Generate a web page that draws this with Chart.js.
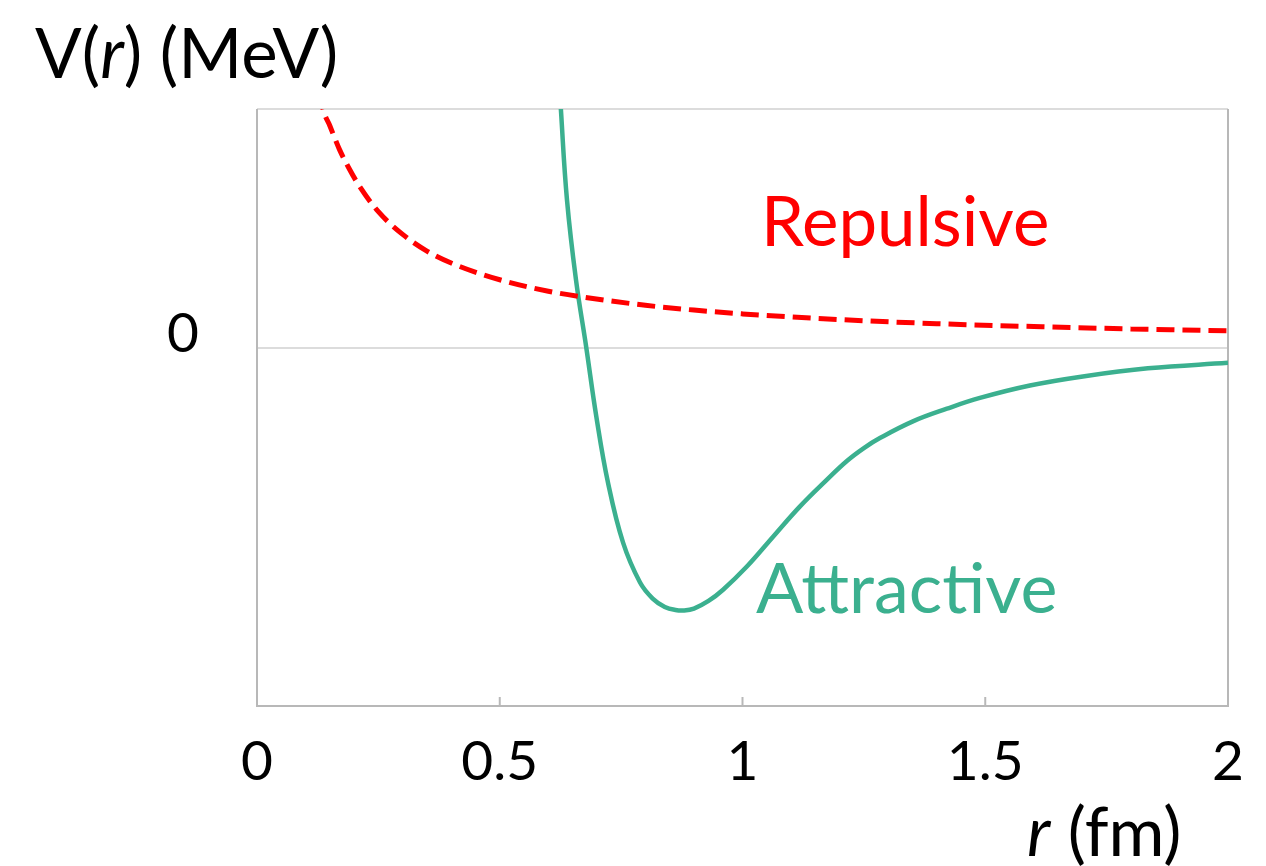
<!DOCTYPE html>
<html>
<head>
<meta charset="utf-8">
<script src="https://cdn.jsdelivr.net/npm/chart.js@4.4.0/dist/chart.umd.min.js"></script>
<style>
  body { margin: 0; background: #fff; }
  canvas { display: block; }
</style>
</head>
<body>
<canvas id="potential-chart" width="1266" height="866"></canvas>
<script>
// Values (r in fm, V in arbitrary MeV units, 0 = zero line)
const repulsiveR = [0.12, 0.136, 0.15, 0.17, 0.19, 0.21, 0.25, 0.3, 0.35, 0.4, 0.5, 0.6, 0.67, 0.8, 0.9, 1.0, 1.2, 1.4, 1.6, 1.8, 2.0];
const repulsiveV = [1.18, 1.0, 0.93, 0.83, 0.75, 0.68, 0.57, 0.475, 0.405, 0.355, 0.285, 0.237, 0.213, 0.178, 0.158, 0.142, 0.118, 0.101, 0.089, 0.079, 0.071];

const attractiveR = [0.617, 0.626, 0.6385, 0.657, 0.678, 0.699, 0.723, 0.754, 0.789, 0.815, 0.84, 0.862, 0.88, 0.9, 0.93, 0.96, 1.009, 1.063, 1.118, 1.174, 1.215, 1.25, 1.283, 1.351, 1.421, 1.489, 1.592, 1.701, 1.835, 2.0];
const attractiveV = [1.3, 0.996, 0.619, 0.285, 0.004, -0.289, -0.565, -0.816, -0.983, -1.05, -1.085, -1.098, -1.1, -1.092, -1.06, -1.013, -0.916, -0.791, -0.665, -0.552, -0.474, -0.42, -0.378, -0.308, -0.255, -0.21, -0.158, -0.12, -0.086, -0.063];

const xTicks = [0, 0.5, 1, 1.5, 2];
const xTickLabels = ['0', '0.5', '1', '1.5', '2'];
const yTicks = [0];
const yTickLabels = ['0'];

const RED = '#ff0000';
const GREEN = '#3bb08f';
const FONT = 'Lato';

function toPoints(xs, ys) {
    return xs.map((x, i) => ({ x: x, y: ys[i] }));
}

// draw text where part of it is italic
function drawMixed(ctx, parts, x, y, size, color) {
    ctx.fillStyle = color;
    ctx.textBaseline = 'alphabetic';
    ctx.textAlign = 'left';
    parts.forEach(p => {
        ctx.font = (p.italic ? 'italic ' : '') + size + 'px ' + FONT;
        ctx.fillText(p.text, x, y);
        x += ctx.measureText(p.text).width;
    });
}

// frame round the plot, inward tick marks and the text labels
const decorations = {
    id: 'decorations',
    beforeDatasetsDraw(chart) {
        const ctx = chart.ctx;
        const a = chart.chartArea;
        const xs = chart.scales.x;
        ctx.save();
        ctx.lineWidth = 2;
        ctx.strokeStyle = '#dcdcdc';
        ctx.beginPath();
        ctx.moveTo(a.left, a.top);
        ctx.lineTo(a.right, a.top);
        ctx.stroke();
        ctx.strokeStyle = '#b8b8b8';
        ctx.beginPath();
        ctx.moveTo(a.left, a.top);
        ctx.lineTo(a.left, a.bottom);
        ctx.lineTo(a.right, a.bottom);
        ctx.lineTo(a.right, a.top);
        ctx.stroke();
        // small tick marks pointing into the plot
        xTicks.slice(1, -1).forEach(v => {
            const px = xs.getPixelForValue(v);
            ctx.beginPath();
            ctx.moveTo(px, a.bottom);
            ctx.lineTo(px, a.bottom - 9);
            ctx.stroke();
        });
        ctx.restore();
    },
    afterDraw(chart) {
        const ctx = chart.ctx;
        ctx.save();
        drawMixed(ctx, [{ text: 'V(' }, { text: 'r', italic: true }, { text: ') (MeV)' }], 35, 78, 69, '#000');
        drawMixed(ctx, [{ text: 'r', italic: true }, { text: ' (fm)' }], 1027, 856, 68, '#000');
        drawMixed(ctx, [{ text: 'Repulsive' }], 761, 246, 69, RED);
        drawMixed(ctx, [{ text: 'Attractive' }], 756, 613, 70, GREEN);
        ctx.restore();
    }
};

const ctx = document.getElementById('potential-chart').getContext('2d');
new Chart(ctx, {
    type: 'line',
    data: {
        datasets: [{
            label: 'Repulsive',
            data: toPoints(repulsiveR, repulsiveV),
            borderColor: RED,
            borderWidth: 5,
            borderDash: [18, 8],
            pointRadius: 0,
            cubicInterpolationMode: 'monotone',
            clip: 0
        }, {
            label: 'Attractive',
            data: toPoints(attractiveR, attractiveV),
            borderColor: GREEN,
            borderWidth: 4.5,
            pointRadius: 0,
            tension: 0.4,
            clip: 0
        }]
    },
    options: {
        responsive: false,
        animation: false,
        layout: { padding: { left: 0, top: 109, right: 38, bottom: 0 } },
        plugins: {
            legend: { display: false },
            tooltip: { enabled: false }
        },
        scales: {
            x: {
                type: 'linear',
                min: 0,
                max: 2,
                afterBuildTicks: scale => { scale.ticks = xTicks.map(v => ({ value: v })); },
                afterFit: scale => {
                    scale.height = 160;
                    scale.paddingLeft = 0;
                    scale.paddingRight = 0;
                },
                grid: { display: false, drawTicks: false },
                border: { display: false },
                ticks: {
                    font: { family: FONT, size: 55 },
                    color: '#000',
                    padding: 23,
                    maxRotation: 0,
                    callback: (v, i) => xTickLabels[i]
                }
            },
            y: {
                type: 'linear',
                min: -1.5,
                max: 1,
                afterBuildTicks: scale => { scale.ticks = yTicks.map(v => ({ value: v })); },
                afterFit: scale => { scale.width = 257; },
                grid: { color: '#dcdcdc', lineWidth: 2, drawTicks: false },
                border: { display: false },
                ticks: {
                    font: { family: FONT, size: 55 },
                    color: '#000',
                    padding: 58,
                    labelOffset: -14,
                    callback: (v, i) => yTickLabels[i]
                }
            }
        }
    },
    plugins: [decorations]
});
</script>
</body>
</html>
